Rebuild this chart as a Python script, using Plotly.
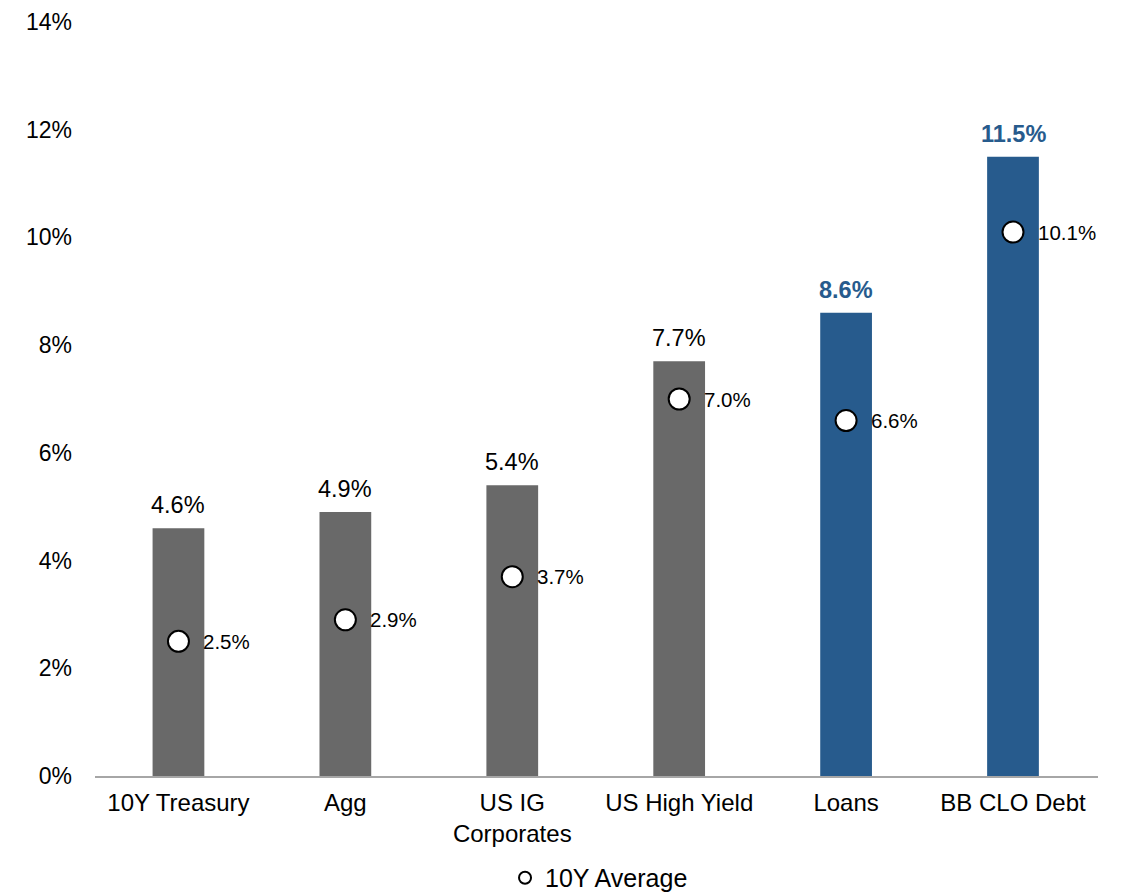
import plotly.graph_objects as go

categories = ["10Y Treasury", "Agg", "US IG<br>Corporates", "US High Yield", "Loans", "BB CLO Debt"]
current_yield = [4.6, 4.9, 5.4, 7.7, 8.6, 11.5]
avg_10y = [2.5, 2.9, 3.7, 7.0, 6.6, 10.1]
highlight = [False, False, False, False, True, True]

GRAY = "#696969"
BLUE = "#275b8d"
FONT = "Liberation Sans, Arial, sans-serif"

bar_colors = [BLUE if h else GRAY for h in highlight]

fig = go.Figure()
fig.add_trace(go.Bar(
    x=categories, y=current_yield, marker=dict(color=bar_colors, line=dict(width=0)),
    showlegend=False, hoverinfo="skip",
))
fig.add_trace(go.Scatter(
    x=categories, y=avg_10y, mode="markers",
    marker=dict(symbol="circle", size=21, color="white", line=dict(color="black", width=2)),
    showlegend=False, cliponaxis=False,
))
fig.add_trace(go.Scatter(
    x=[None], y=[None], mode="markers", name="10Y Average",
    marker=dict(symbol="circle", size=12, color="white", line=dict(color="black", width=2)),
))

for c, v in zip(categories, avg_10y):
    fig.add_annotation(
        x=c, y=v, text=f"{v:.1f}%", showarrow=False, xanchor="left", yanchor="middle",
        xshift=23, font=dict(family=FONT, size=20.5, color="black"),
    )

for c, v, h in zip(categories, current_yield, highlight):
    fig.add_annotation(
        x=c, y=v, text=(f"<b>{v:.1f}%</b>" if h else f"{v:.1f}%"),
        showarrow=False, yanchor="bottom", yshift=8,
        font=dict(family=FONT, size=23.5, color=BLUE if h else "black"),
    )

fig.update_layout(
    width=1128, height=893,
    margin=dict(l=87, r=38, t=14, b=125),
    paper_bgcolor="white", plot_bgcolor="white",
    font=dict(family=FONT, size=23.5, color="black"),
    bargap=0.69,
    legend=dict(orientation="h", x=0.4088, xanchor="left", yref="container", y=0.0258,
                yanchor="middle", font=dict(family=FONT, size=25, color="black"), itemwidth=30),
    xaxis=dict(showline=True, linecolor="#a6a6a6", linewidth=1.5, ticks="", automargin=False,
               showgrid=False, tickfont=dict(size=24), ticklabelstandoff=4),
    yaxis=dict(range=[0, 14], dtick=2, ticksuffix="%", showgrid=False, zeroline=False,
               automargin=False, showline=False, tickfont=dict(size=23), ticklabelstandoff=22),
)

fig.write_html("out.html")
